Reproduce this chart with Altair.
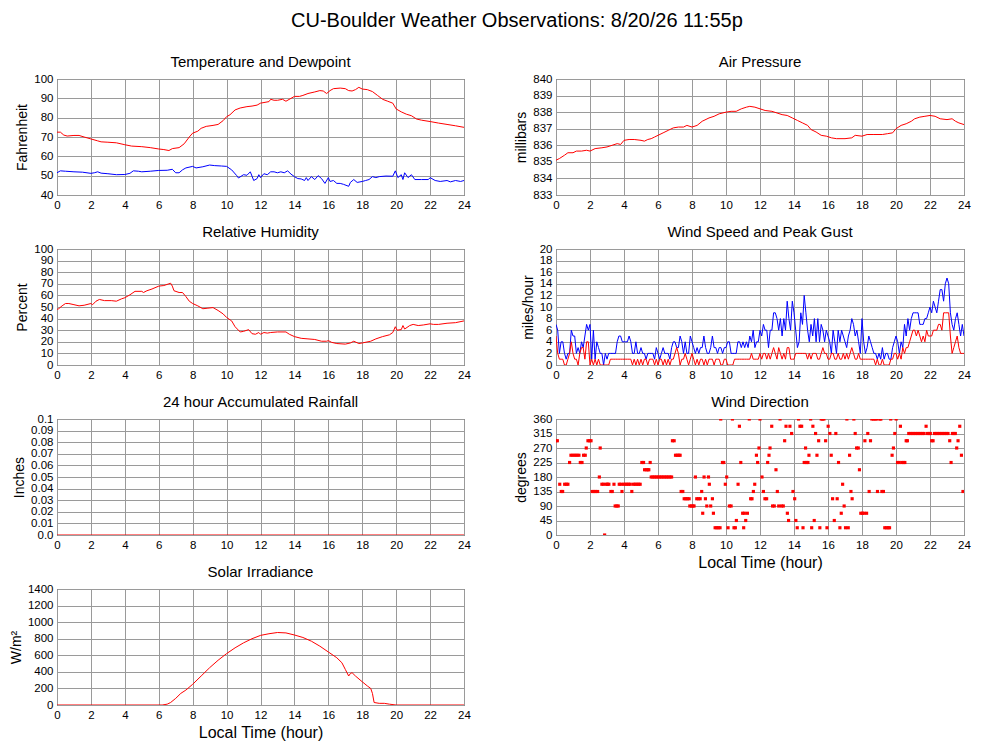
import altair as alt
import pandas as pd

FONT = "Liberation Sans"
RED = "#ff0000"
BLUE = "#0000ff"

# ---- Temperature and dewpoint (F) ----
temp_hours = [0, 0.2, 0.4, 0.6, 1.0, 1.3, 1.6, 2.0, 2.4, 2.6, 3.0, 3.5, 4.0, 4.4, 5.0, 5.5,
              6.0, 6.3, 6.6, 6.8, 7.2, 7.5, 7.8, 8.0, 8.3, 8.5, 8.8, 9.2, 9.5, 9.8, 10.0, 10.2,
              10.5, 10.8, 11.2, 11.5, 11.8, 12.0, 12.5, 12.6, 12.8, 13.0, 13.3, 13.5, 13.8, 14.0,
              14.3, 14.5, 14.8, 15.2, 15.5, 15.7, 15.9, 16.1, 16.3, 16.7, 17.0, 17.2, 17.4, 17.6,
              17.8, 18.0, 18.3, 18.6, 18.9, 19.2, 19.5, 19.8, 20.0, 20.3, 20.6, 20.9, 21.2, 21.5,
              22.0, 22.5, 23.0, 23.5, 24.0]
temp_f = [72.5, 72.5, 71, 70.5, 70.8, 70.8, 70, 69, 68, 67.5, 67.3, 67, 66, 65.3, 65, 64.5,
          63.8, 63.5, 63, 64, 64.5, 66.5, 70, 72, 73, 74.5, 75.5, 76, 76.5, 78.5, 80.5, 81.5,
          84, 85, 85.7, 86, 86.5, 87.5, 88.3, 89.5, 89, 89, 89.5, 88.5, 90, 91,
          91, 91.5, 92.5, 93.3, 94, 93.8, 92.5, 94, 95, 95.3, 95, 94, 93.8, 94.5,
          95.7, 94.8, 94.5, 93.5, 91.5, 89.5, 88.5, 87.5, 84.5, 83, 81.8, 81, 79.3, 78.7,
          78, 77.2, 76.5, 75.8, 75]

dew_hours = [0, 0.2, 0.5, 1.0, 1.5, 2.0, 2.2, 2.4, 2.6, 3.0,
             3.5, 4.0, 4.3, 4.5, 4.8, 5.0, 5.5, 6.0, 6.5, 6.8,
             7.0, 7.2, 7.4, 7.6, 8.0, 8.2, 8.6, 9.0, 9.3, 9.7,
             10.0, 10.3, 10.6, 10.7, 11.0, 11.2, 11.4, 11.6, 11.8, 11.9,
             12.0, 12.2, 12.4, 12.6, 12.8, 13.0, 13.2, 13.4, 13.6, 13.8,
             14.0, 14.2, 14.4, 14.6, 14.7, 14.8, 15.0, 15.2, 15.4, 15.6,
             15.8, 16.0, 16.1, 16.3, 16.5, 16.7, 16.9, 17.2, 17.3, 17.5,
             17.7, 18.0, 18.2, 18.4, 18.6, 18.8, 19.0, 19.4, 19.8, 19.95,
             20.1, 20.3, 20.4, 20.5, 20.7, 20.9, 21.1, 21.5, 21.9, 22.0,
             22.3, 22.6, 23.0, 23.2, 23.5, 23.8, 24.0]
dew_f = [51.5, 52.5, 52.3, 52, 51.8, 51.2, 51.5, 52, 51.3, 51,
         50.5, 50.6, 51.2, 52.5, 52.3, 52, 52.3, 52.7, 52.8, 53.3,
         51.5, 51.5, 53, 54, 54.8, 54, 54.6, 55.5, 55.2, 55,
         54.8, 53, 50, 48.8, 50.5, 50.2, 52, 47.5, 48.5, 50.5,
         49, 51, 50.5, 52, 52, 51.5, 52, 51.5, 52.5, 50.8,
         49.5, 48.5, 48.3, 47.5, 49, 47.5, 49.5, 48, 50, 48.5,
         46, 49, 47, 47.5, 46, 46, 45.5, 44.5, 46.5, 48,
         46.5, 47, 47.5, 48, 49.5, 49, 49.5, 49.8, 49.7, 52.5,
         49, 50.5, 48, 51.5, 49, 50.5, 48, 48, 48, 49,
         47.5, 47, 47.5, 46.8, 47.5, 47, 47.5]

# ---- Air pressure (mb) ----
pres_hours = [0, 0.2, 0.5, 0.7, 1.0, 1.2, 1.5, 1.8, 2.0, 2.3,
              2.7, 3.0, 3.3, 3.6, 3.8, 4.0, 4.3, 4.6, 5.0, 5.2,
              5.4, 5.6, 5.8, 6.0, 6.3, 6.6, 6.9, 7.2, 7.5, 7.7,
              8.0, 8.3, 8.6, 9.0, 9.3, 9.6, 10.0, 10.3, 10.6, 10.9,
              11.2, 11.4, 11.7, 12.0, 12.3, 12.7, 13.0, 13.3, 13.6, 13.9,
              14.2, 14.5, 14.8, 15.0, 15.3, 15.6, 15.9, 16.2, 16.5, 17.0,
              17.4, 17.6, 18.0, 18.3, 18.7, 19.2, 19.5, 19.8, 20.0, 20.3,
              20.6, 20.9, 21.1, 21.4, 21.7, 22.0, 22.3, 22.6, 23.0, 23.3,
              23.5, 23.7, 24.0]
pres_mb = [835.1, 835.2, 835.4, 835.55, 835.55, 835.65, 835.65, 835.7, 835.65, 835.8,
           835.85, 835.9, 836.0, 836.1, 836.05, 836.3, 836.35, 836.35, 836.3, 836.25,
           836.35, 836.4, 836.5, 836.6, 836.75, 836.9, 837.05, 837.1, 837.1, 837.2,
           837.1, 837.2, 837.45, 837.65, 837.75, 837.9, 838.0, 838.05, 838.05, 838.2,
           838.3, 838.35, 838.3, 838.2, 838.1, 838.05, 837.95, 837.85, 837.8, 837.65,
           837.5, 837.35, 837.2, 836.95, 836.8, 836.6, 836.55, 836.45, 836.4, 836.4,
           836.45, 836.6, 836.55, 836.65, 836.65, 836.65, 836.7, 836.75, 837.0, 837.2,
           837.3, 837.45, 837.6, 837.7, 837.75, 837.8, 837.75, 837.6, 837.55, 837.6,
           837.45, 837.35, 837.25]

# ---- Relative humidity (%) ----
rh_hours = [0, 0.1, 0.3, 0.5, 0.7, 1.0, 1.3, 1.6, 2.0, 2.1,
            2.3, 2.5, 2.8, 3.2, 3.5, 3.8, 4.0, 4.3, 4.6, 5.0,
            5.1, 5.3, 5.6, 6.0, 6.3, 6.6, 6.7, 6.8, 6.9, 7.2,
            7.4, 7.6, 7.8, 8.0, 8.3, 8.6, 8.9, 9.2, 9.5, 9.8,
            10.0, 10.3, 10.5, 10.8, 11.0, 11.3, 11.5, 11.7, 11.9, 12.0,
            12.2, 12.4, 12.6, 13.0, 13.5, 13.7, 14.0, 14.4, 14.8, 15.2,
            15.6, 15.9, 16.0, 16.2, 16.5, 17.0, 17.3, 17.5, 17.8, 18.0,
            18.5, 18.8, 19.2, 19.6, 19.8, 19.95, 20.05, 20.3, 20.4, 20.5,
            20.8, 21.0, 21.3, 21.6, 22.0, 22.2, 22.5, 23.0, 23.5, 24.0]
rh_pct = [48, 48.5, 51, 53, 53, 52, 51, 51.5, 53, 52,
          55, 56.5, 55.5, 55.5, 55, 57, 58, 60.5, 63.5, 63.5,
          62.5, 64, 65.5, 68, 68.5, 70, 70.5, 68, 64, 62.5,
          62.5, 59, 55, 53, 51, 48.5, 49, 49.5, 47, 44,
          41, 38, 33, 28.5, 29, 30.5, 27, 26.5, 28, 26.5,
          28, 27.5, 28, 28.5, 28.5, 26.5, 24.5, 23, 22.5, 22,
          20.5, 20.5, 21, 19.5, 18.5, 18, 19, 20.5, 18.5, 19,
          20.5, 22.5, 24.5, 26, 28, 33, 30, 30.5, 34, 31,
          34, 35, 34, 34.5, 35.5, 35, 35, 36, 36.5, 38]

# ---- Wind speed and peak gust (mph), one reading every 6 minutes ----
wind_hours = [round(i * 0.1, 1) for i in range(241)]
gust_mph = [7, 6, 2, 4, 4, 2, 1, 2, 2, 6,
            5, 5, 2, 3, 2, 4, 3, 5, 7, 6,
            7, 1, 6, 1, 4, 3, 2, 2, 0, 2,
            1, 2, 2, 2, 2, 2, 4, 5, 5, 4,
            4, 4, 4, 5, 4, 2, 2, 4, 2, 2,
            3, 2, 2, 1, 2, 2, 2, 2, 1, 3,
            2, 1, 2, 3, 2, 2, 2, 1, 3, 4,
            4, 3, 3, 5, 4, 2, 4, 2, 2, 5,
            4, 3, 2, 3, 2, 3, 3, 5, 3, 2,
            2, 3, 5, 3, 3, 2, 3, 3, 2, 3,
            3, 4, 4, 2, 2, 2, 2, 4, 4, 3,
            4, 3, 4, 3, 5, 4, 6, 3, 4, 4,
            6, 5, 7, 6, 6, 3, 6, 6, 9, 9,
            8, 6, 8, 5, 8, 6, 11, 8, 6, 11,
            9, 6, 3, 4, 9, 7, 12, 9, 6, 4,
            7, 5, 8, 4, 8, 4, 7, 6, 4, 6,
            5, 4, 2, 6, 4, 2, 6, 4, 6, 5,
            4, 3, 5, 6, 8, 7, 5, 6, 4, 2,
            8, 4, 2, 3, 5, 4, 3, 2, 2, 1,
            2, 1, 3, 1, 2, 2, 1, 1, 3, 4,
            5, 4, 2, 4, 3, 7, 5, 8, 6, 8,
            9, 9, 9, 9, 7, 7, 7, 8, 8, 9,
            10, 9, 11, 10, 9, 11, 13, 13, 11, 14,
            15, 14, 9, 7, 6, 8, 9, 7, 5, 7,
            5]
speed_mph = [5, 2, 1, 1, 1, 0, 0, 1, 2, 4,
             2, 1, 1, 0, 2, 3, 3, 1, 4, 4,
             0, 1, 0, 1, 0, 1, 0, 0, 0, 0,
             0, 0, 1, 1, 1, 1, 1, 1, 1, 1,
             1, 1, 1, 1, 1, 0, 1, 0, 1, 0,
             1, 0, 1, 1, 0, 1, 1, 1, 0, 1,
             0, 1, 1, 0, 1, 0, 1, 0, 1, 1,
             2, 3, 2, 0, 1, 1, 2, 1, 0, 1,
             2, 1, 0, 1, 0, 1, 1, 0, 1, 0,
             1, 1, 1, 0, 1, 1, 1, 0, 0, 1,
             1, 0, 0, 0, 0, 1, 1, 1, 1, 1,
             1, 1, 1, 1, 1, 2, 1, 1, 1, 1,
             2, 1, 2, 2, 1, 2, 1, 2, 3, 2,
             1, 3, 2, 1, 2, 1, 3, 3, 1, 1,
             1, 2, 2, 2, 2, 2, 2, 2, 1, 2,
             1, 2, 2, 2, 1, 1, 2, 3, 2, 2,
             1, 1, 2, 2, 1, 1, 2, 1, 1, 2,
             1, 2, 1, 2, 3, 2, 1, 1, 2, 1,
             1, 1, 1, 1, 1, 1, 1, 1, 0, 1,
             0, 0, 1, 0, 0, 0, 0, 1, 1, 2,
             2, 1, 2, 1, 3, 2, 3, 3, 4, 5,
             6, 6, 5, 6, 5, 4, 5, 4, 6, 5,
             5, 5, 6, 6, 6, 7, 7, 6, 9, 9,
             9, 9, 5, 2, 3, 4, 5, 3, 2, 2,
             2]

# ---- Wind direction (degrees) ----
dir_hours = [0.0, 0.08, 0.22, 0.31, 0.39, 0.51, 0.61, 0.70, 0.80, 0.88, 1.00, 1.12, 1.23, 1.35,
             1.43, 1.53, 1.62, 1.72, 1.78, 1.88, 1.98, 2.06,
             2.13, 2.23, 2.33, 2.45, 2.55, 2.60, 2.70, 2.80, 2.86, 2.96, 3.03, 3.11, 3.23, 3.31,
             3.41, 3.48, 3.58, 3.66, 3.72, 3.82, 3.88,
             3.97, 4.07, 4.17, 4.27, 4.37, 4.46, 4.56, 4.66, 4.76, 4.86, 4.95, 5.05, 5.15, 5.21,
             5.31, 5.40, 5.46, 5.54,
             5.60, 5.70, 5.80, 5.90, 6.00, 6.10, 6.20, 6.30, 6.40, 6.50, 6.60, 6.70, 6.80, 6.85,
             6.95, 7.03, 7.13, 7.22, 7.30,
             7.36, 7.46, 7.54, 7.64, 7.73, 7.83, 7.87, 7.97, 8.05, 8.12, 8.20, 8.28, 8.38, 8.48,
             8.57, 8.63, 8.71, 8.79, 8.87, 8.97, 9.02, 9.10, 9.20, 9.26,
             9.36, 9.46, 9.55, 9.65, 9.69, 9.79, 9.87, 9.96, 10.04, 10.12, 10.20, 10.30, 10.38,
             10.47, 10.55, 10.61, 10.71, 10.79, 10.87, 10.98, 11.04, 11.08, 11.16, 11.26, 11.37,
             11.45, 11.53, 11.61, 11.69, 11.79, 11.86, 11.94, 12.00, 12.12, 12.20, 12.29, 12.39,
             12.45, 12.53, 12.59, 12.69, 12.74, 12.84, 12.94, 13.02, 13.10, 13.18,
             13.27, 13.37, 13.45, 13.53, 13.61, 13.68, 13.76, 13.86, 13.94, 14.04, 14.11, 14.19,
             14.27, 14.35, 14.45, 14.53, 14.60, 14.68, 14.74, 14.82, 14.88, 14.98, 15.04,
             15.11, 15.19, 15.27, 15.35, 15.45, 15.52, 15.60, 15.68, 15.76, 15.86, 15.94, 16.01,
             16.11, 16.19, 16.27, 16.37, 16.46, 16.54, 16.62, 16.70, 16.78, 16.86, 16.95,
             17.03, 17.11, 17.19, 17.27, 17.35, 17.42, 17.52, 17.60, 17.68, 17.78, 17.85, 17.93,
             18.03, 18.11, 18.17, 18.27, 18.34, 18.42, 18.50, 18.58, 18.68, 18.77, 18.87, 18.91,
             19.05, 19.11, 19.17, 19.26, 19.34, 19.44, 19.54, 19.62, 19.69, 19.77, 19.85, 19.93,
             20.01, 20.09, 20.18, 20.26, 20.34, 20.44, 20.52, 20.60, 20.67,
             20.75, 20.85, 20.95, 21.05, 21.15, 21.25, 21.35, 21.45, 21.55, 21.65, 21.77, 21.85,
             21.95, 22.02, 22.10, 22.18, 22.26, 22.36, 22.46, 22.56, 22.66, 22.76, 22.86, 22.96,
             23.06, 23.16, 23.24, 23.32, 23.41, 23.49, 23.57, 23.65, 23.75, 23.85, 23.94]
dir_deg = [292.5, 292.5, 157.5, 135, 135, 157.5, 157.5, 157.5, 225, 247.5, 247.5, 247.5, 247.5, 247.5,
           225, 225, 247.5, 247.5, 270, 292.5, 292.5, 292.5,
           135, 135, 135, 135, 180, 270, 157.5, 157.5, 0, 157.5, 157.5, 157.5, 135, 135,
           157.5, 90, 90, 90, 157.5, 157.5, 135,
           157.5, 157.5, 157.5, 157.5, 157.5, 135, 157.5, 157.5, 157.5, 157.5, 157.5, 225, 225, 202.5,
           202.5, 202.5, 202.5, 225,
           180, 180, 180, 180, 180, 180, 180, 180, 180, 180, 180, 180, 180, 292.5,
           292.5, 247.5, 247.5, 247.5, 247.5,
           135, 135, 112.5, 112.5, 112.5, 112.5, 90, 90, 90, 90, 180, 112.5, 112.5, 112.5,
           135, 67.5, 180, 112.5, 90, 180, 157.5, 90, 112.5, 67.5,
           22.5, 22.5, 22.5, 22.5, 360, 225, 225, 157.5, 180, 22.5, 90, 90, 360,
           22.5, 22.5, 45, 157.5, 337.5, 225, 67.5, 22.5, 67.5, 45, 67.5, 360,
           112.5, 112.5, 135, 157.5, 247.5, 225, 270, 360, 180, 135, 112.5, 112.5,
           225, 247.5, 270, 337.5, 90, 90, 202.5, 135, 90, 360,
           90, 90, 292.5, 337.5, 67.5, 45, 337.5, 315, 135, 112.5, 45, 22.5,
           360, 337.5, 337.5, 22.5, 225, 270, 225, 225, 247.5, 360, 22.5,
           337.5, 45, 315, 247.5, 292.5, 22.5, 360, 360, 360, 292.5, 22.5, 337.5,
           315, 247.5, 112.5, 45, 315, 112.5, 225, 22.5, 67.5, 157.5, 90,
           22.5, 360, 22.5, 247.5, 135, 112.5, 360, 315, 270, 270, 202.5, 67.5,
           67.5, 67.5, 292.5, 67.5, 315, 135, 292.5, 360, 360, 360, 360, 135,
           360, 360, 135, 135, 22.5, 22.5, 22.5, 22.5, 360, 247.5, 270, 315,
           360, 225, 225, 337.5, 225, 225, 225, 292.5, 292.5,
           315, 315, 315, 315, 315, 315, 315, 315, 315, 315, 337.5, 315,
           315, 315, 292.5, 292.5, 315, 315, 315, 315, 315, 315, 315, 315,
           315, 292.5, 225, 315, 315, 315, 270, 292.5, 337.5, 247.5, 135]

# ---- Rainfall (in) ----
rain_hours = [0, 24]
rain_in = [0.0, 0.0]

# ---- Solar irradiance (W/m2) ----
solar_hours = [0, 6.2, 6.5, 6.7, 7.0, 7.3, 7.6, 8.0, 8.5, 9.0, 9.5, 10.0, 10.5, 11.0, 11.5,
               12.0, 12.5, 13.0, 13.5, 14.0, 14.5, 15.0, 15.5, 16.0, 16.5, 16.8, 17.0, 17.2,
               17.3, 17.4, 17.6, 18.0, 18.3, 18.5, 18.6, 18.7, 19.0, 19.3, 19.6, 20.0, 24.0]
solar_wm2 = [0, 0, 10, 30, 80, 140, 180, 250, 350, 450, 540, 620, 690, 750, 800,
             840, 860, 875, 870, 845, 815, 770, 710, 640, 570, 510, 430, 350,
             380, 390, 350, 280, 230, 200, 140, 30, 20, 20, 10, 0, 0]

HOUR_TICKS = list(range(0, 25, 2))
LEFT_W, RIGHT_W, PANEL_H = 407, 408, 116


def frame(hours, values):
    return pd.DataFrame({"hour": hours, "value": values})


def x_enc(title=None):
    return alt.X("hour:Q", scale=alt.Scale(domain=[0, 24], nice=False, zero=False),
                 axis=alt.Axis(values=HOUR_TICKS, title=title, format="d"))


def y_enc(title, lo, hi, ticks, label_expr=None, fmt="d"):
    axis_kw = dict(values=ticks, title=title, format=fmt)
    if label_expr:
        axis_kw["labelExpr"] = label_expr
    return alt.Y("value:Q", scale=alt.Scale(domain=[lo, hi], nice=False, zero=False),
                 axis=alt.Axis(**axis_kw))


def line(df, color, y, xtitle=None):
    return alt.Chart(df).mark_line(color=color, strokeWidth=1, clip=True).encode(
        x=x_enc(xtitle), y=y)


def panel(layers, title, w):
    return alt.layer(*layers).properties(
        width=w, height=PANEL_H,
        title=alt.TitleParams(title, fontSize=15, fontWeight="normal", font=FONT,
                              color="black", anchor="middle", offset=3))


temp_y = y_enc("Fahrenheit", 40, 100, list(range(40, 101, 10)))
temp_panel = panel([line(frame(temp_hours, temp_f), RED, temp_y),
                    line(frame(dew_hours, dew_f), BLUE, temp_y)],
                   "Temperature and Dewpoint", LEFT_W)

rh_panel = panel([line(frame(rh_hours, rh_pct), RED,
                       y_enc("Percent", 0, 100, list(range(0, 101, 10))))],
                 "Relative Humidity", LEFT_W)

rain_ticks = [0, 0.01, 0.02, 0.03, 0.04, 0.05, 0.06, 0.07, 0.08, 0.09, 0.1]
rain_panel = panel([line(frame(rain_hours, rain_in), RED,
                         y_enc("Inches", 0, 0.1, rain_ticks,
                               "datum.value == 0 ? '0.0' : toString(round(datum.value * 100) / 100)",
                               fmt=".2f"))],
                   "24 hour Accumulated Rainfall", LEFT_W)

solar_panel = panel([line(frame(solar_hours, solar_wm2), RED,
                          y_enc("W/m²", 0, 1400, list(range(0, 1401, 200))),
                          "Local Time (hour)")],
                    "Solar Irradiance", LEFT_W)

pres_panel = panel([line(frame(pres_hours, pres_mb), RED,
                         y_enc("millibars", 833, 840, list(range(833, 841))))],
                   "Air Pressure", RIGHT_W)

wind_y = y_enc("miles/hour", 0, 20, list(range(0, 21, 2)))
wind_panel = panel([line(frame(wind_hours, gust_mph), BLUE, wind_y),
                    line(frame(wind_hours, speed_mph), RED, wind_y)],
                   "Wind Speed and Peak Gust", RIGHT_W)

dir_panel = panel([alt.Chart(frame(dir_hours, dir_deg)).mark_square(
                       color=RED, size=10, opacity=1, clip=True).encode(
                       x=x_enc("Local Time (hour)"),
                       y=y_enc("degrees", 0, 360, list(range(0, 361, 45))))],
                  "Wind Direction", RIGHT_W)

left = alt.vconcat(temp_panel, rh_panel, rain_panel, solar_panel, spacing=13)
right = alt.vconcat(pres_panel, wind_panel, dir_panel, spacing=13)

chart = alt.hconcat(left, right, spacing=43).properties(
    title=alt.TitleParams("CU-Boulder Weather Observations: 8/20/26 11:55p",
                          fontSize=20, fontWeight="normal", font=FONT, color="black",
                          anchor="middle", offset=24, dx=27),
    padding={"left": 0, "top": 2, "right": 2, "bottom": 0},
).configure(font=FONT, background="white").configure_view(
    stroke="#333333", strokeWidth=1
).configure_axis(
    grid=True, gridColor="#9a9a9a", gridWidth=1, domain=False, ticks=False,
    labelFont=FONT, labelFontSize=11.5, labelColor="black", labelPadding=4,
    labelFlush=False, labelOverlap=False,
    titleFont=FONT, titleFontSize=14, titleFontWeight="normal", titleColor="black",
    titlePadding=4
).configure_axisX(titleFontSize=16)

chart.save("out.html", embed_options={"renderer": "svg", "actions": False})
